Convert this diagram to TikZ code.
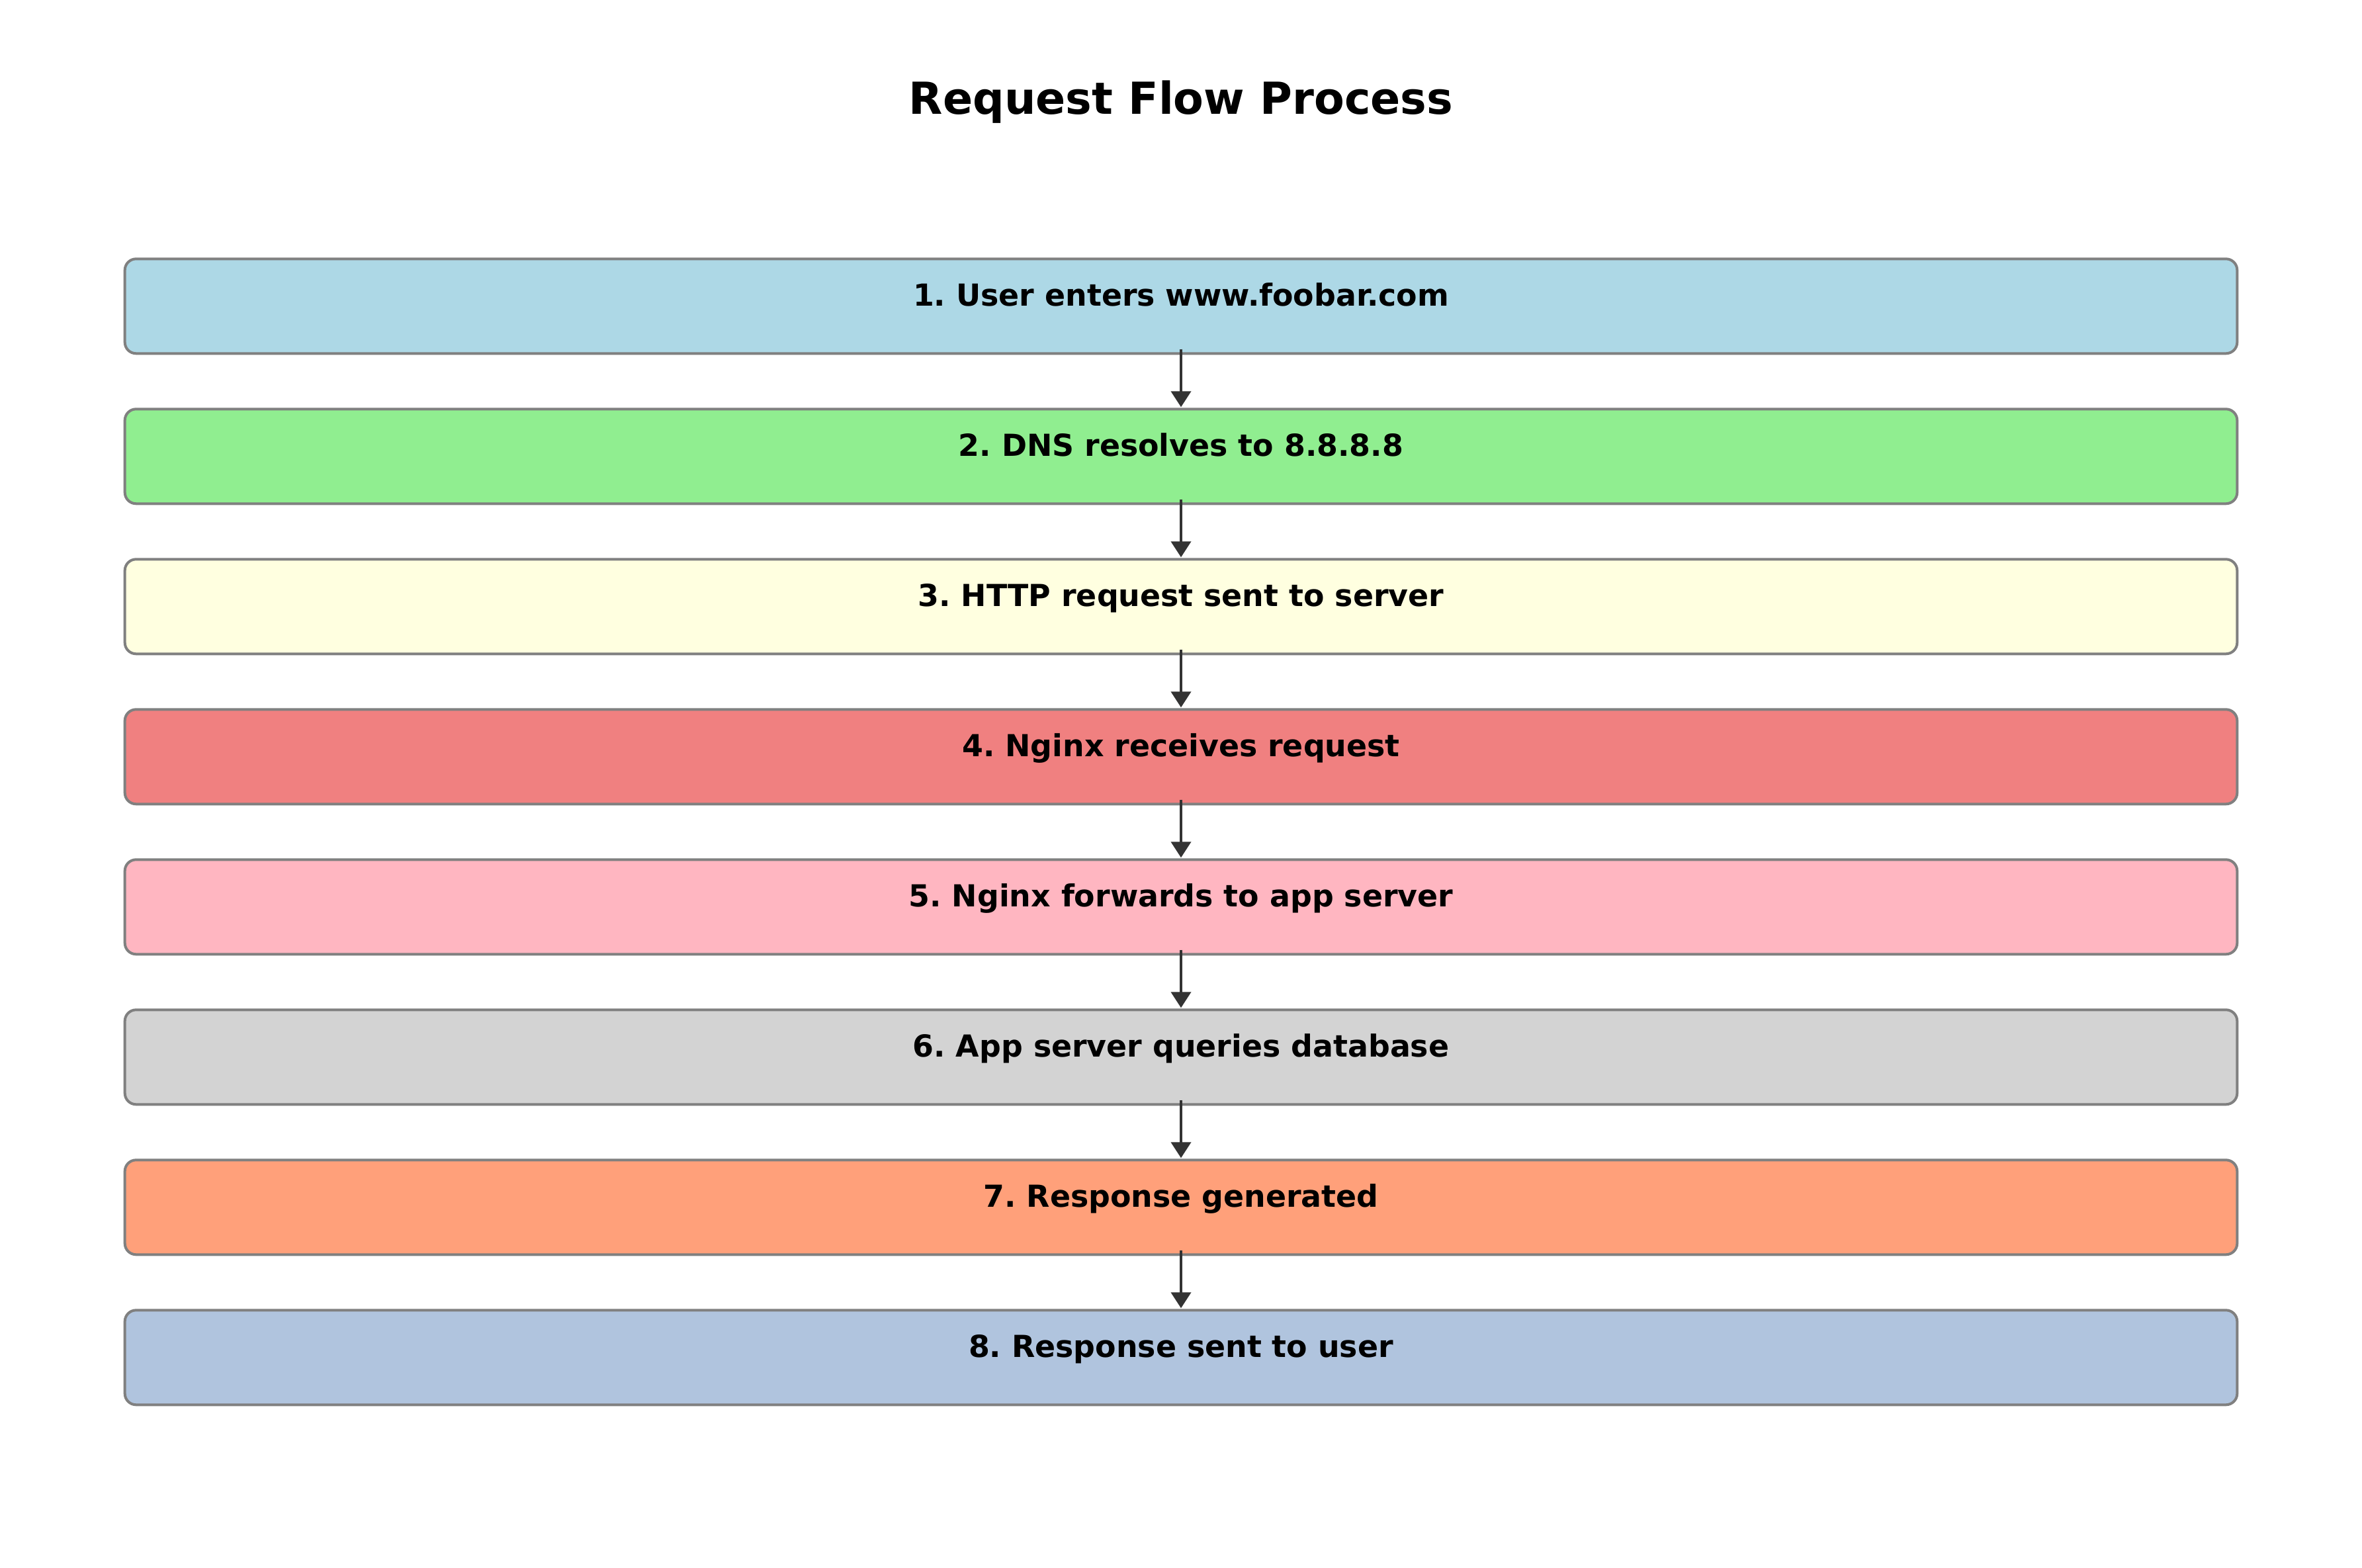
\documentclass[tikz,border=0pt]{standalone}
\usepackage{fontspec}
\setmainfont{DejaVu Sans}
\usetikzlibrary{arrows.meta}
\frenchspacing
\definecolor{bordergray}{HTML}{808080}
\definecolor{arrowgray}{HTML}{333333}
\definecolor{c1}{HTML}{ADD8E6}
\definecolor{c2}{HTML}{90EE90}
\definecolor{c3}{HTML}{FFFFE0}
\definecolor{c4}{HTML}{F08080}
\definecolor{c5}{HTML}{FFB6C1}
\definecolor{c6}{HTML}{D3D3D3}
\definecolor{c7}{HTML}{FFA07A}
\definecolor{c8}{HTML}{B0C4DE}
\tikzset{
  stepbox/.style={draw=bordergray, line width=0.04cm, rounded corners=0.17cm,
    minimum width=31.926cm, minimum height=1.43cm, inner sep=0pt, outer sep=0pt,
    text height=0pt, text depth=0pt,
    font=\fontsize{13.04}{15}\selectfont\bfseries},
  flow/.style={draw=arrowgray, line width=0.04cm,
    -{Triangle[width=0.3cm,length=0.24cm,fill=arrowgray]},
    shorten <=-0.067cm, shorten >=0.03cm},
  titletext/.style={font=\fontsize{18.97}{22}\selectfont\bfseries, anchor=base, inner sep=0pt}
}
\begin{document}
\frenchspacing
\begin{tikzpicture}
\useasboundingbox (0,0) rectangle (35.7,-23.7);
\fill[white] (0,0) rectangle (35.7,-23.7);
\node[titletext] (title) at (17.85,-1.73) {Request Flow Process};
\node[stepbox, fill=c1] (b1) at (17.85,-4.628) {1. User enters www.foobar.com};
\node[stepbox, fill=c2] (b2) at (17.85,-6.898) {2. DNS resolves to 8.8.8.8};
\node[stepbox, fill=c3] (b3) at (17.85,-9.168) {3. HTTP request sent to server};
\node[stepbox, fill=c4] (b4) at (17.85,-11.438) {4. Nginx receives request};
\node[stepbox, fill=c5] (b5) at (17.85,-13.708) {5. Nginx forwards to app server};
\node[stepbox, fill=c6] (b6) at (17.85,-15.978) {6. App server queries database};
\node[stepbox, fill=c7] (b7) at (17.85,-18.248) {7. Response generated};
\node[stepbox, fill=c8] (b8) at (17.85,-20.518) {8. Response sent to user};
\draw[flow] (b1.south) -- (b2.north);
\draw[flow] (b2.south) -- (b3.north);
\draw[flow] (b3.south) -- (b4.north);
\draw[flow] (b4.south) -- (b5.north);
\draw[flow] (b5.south) -- (b6.north);
\draw[flow] (b6.south) -- (b7.north);
\draw[flow] (b7.south) -- (b8.north);
\end{tikzpicture}
\end{document}
